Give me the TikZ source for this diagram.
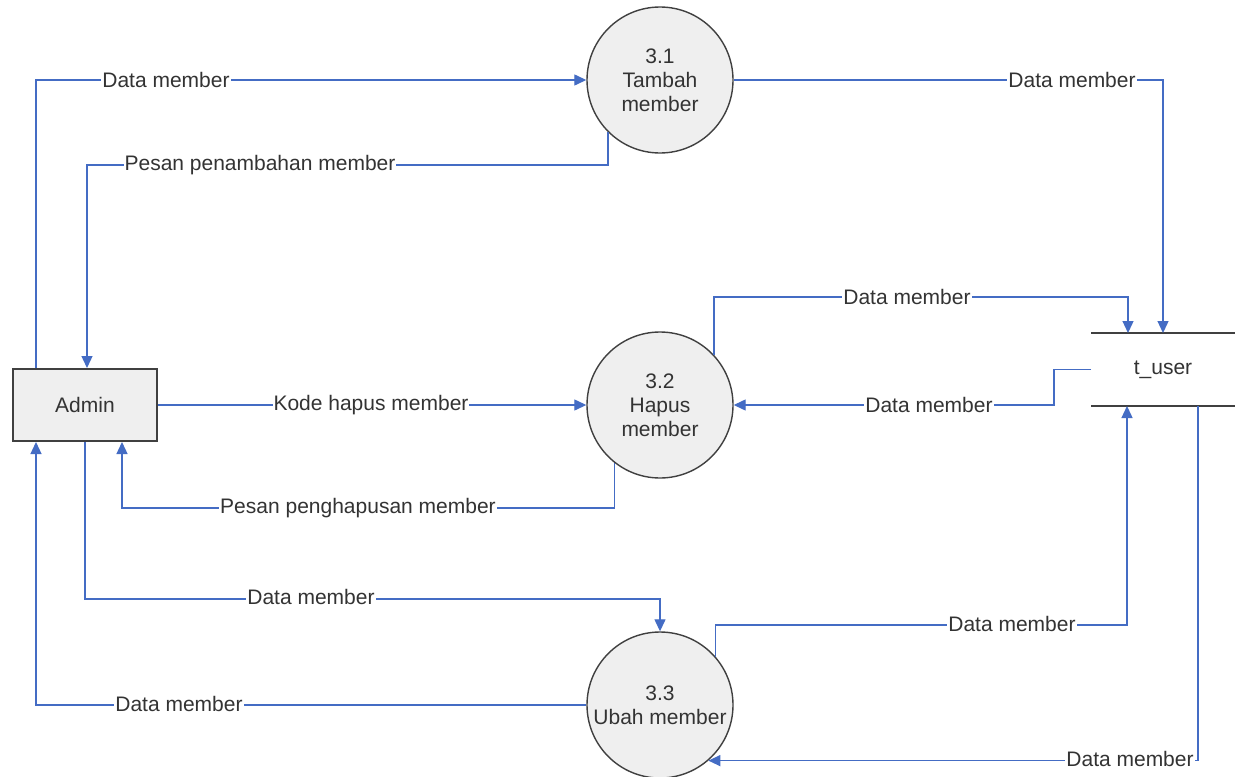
\documentclass[tikz,border=0pt]{standalone}
\usepackage{fontspec}
\setmainfont{Liberation Sans}
\usetikzlibrary{arrows.meta}
\definecolor{flowc}{RGB}{68,108,196}
\definecolor{edgec}{RGB}{64,64,64}
\definecolor{fillc}{RGB}{239,239,239}
\begin{document}
\begin{tikzpicture}[x=1pt,y=-1pt,
  flow/.style={draw=flowc,line width=1.3pt,-{Triangle[length=12pt,width=11pt]}},
  lbl/.style={fill=white,inner sep=1pt,text=black!80,font=\fontsize{21}{24}\selectfont},
  proc/.style={circle,draw=edgec,line width=1.4pt,fill=fillc,minimum size=146pt,inner sep=0pt,
    align=center,text=black!80,font=\fontsize{21}{24}\selectfont},
  entity/.style={rectangle,draw=edgec,line width=2pt,fill=fillc,minimum width=144pt,minimum height=72pt,
    inner sep=0pt,text=black!80,font=\fontsize{21}{24}\selectfont},
  store/.style={rectangle,minimum width=144pt,minimum height=73pt,inner sep=0pt,outer sep=0pt,
    text=black!80,font=\fontsize{21}{24}\selectfont},
  storeline/.style={draw=edgec,line width=2pt}]
\useasboundingbox[fill=white] (0,0) rectangle (1238,776);

\node[entity] (admin) at (85,405) {Admin};
\node[proc] (c31) at (660,80) {3.1\\Tambah\\member};
\node[proc] (c32) at (660,405) {3.2\\Hapus\\member};
\node[proc] (c33) at (660,705) {3.3\\Ubah member};
\node[store] (tuser) at (1163,369.5) {t\_user};
\draw[storeline] (tuser.north west) -- (tuser.north east);
\draw[storeline] (tuser.south west) -- (tuser.south east);

% 1
\draw[flow] ([xshift=24pt]admin.north west) |- (c31.west)
  node[lbl] at (166,80) {Data member};
% 2
\draw[flow] (c31.-135) -- (c31.-135 |- 0,165) -| ([xshift=75pt]admin.north west)
  node[lbl] at (260,165) {Pesan penambahan member};
% 3
\draw[flow] (c31.east) -| (tuser.north)
  node[lbl] at (1072,80) {Data member};
% 4
\draw[flow] (c32.43) -- (c32.43 |- 0,297) -| ([xshift=37pt]tuser.north west)
  node[lbl] at (907,297) {Data member};
% 5
\draw[flow] (tuser.west) -- ++(-37,0) |- (c32.east)
  node[lbl] at (929,405) {Data member};
% 6
\draw[flow] (admin.east) -- (c32.west)
  node[lbl] at (371,405) {Kode hapus member};
% 7
\draw[flow] (c32.-128) -- (c32.-128 |- 0,508) -| ([xshift=110pt]admin.south west)
  node[lbl] at (358,508) {Pesan penghapusan member};
% 8
\draw[flow] ([xshift=73pt]admin.south west) -- ++(0,157) -| (c33.north)
  node[lbl] at (311,597) {Data member};
% 9
\draw[flow] (c33.41) -- (c33.41 |- 0,625) -| ([xshift=36pt]tuser.south west)
  node[lbl] at (1012,624) {Data member};
% 10
\draw[flow] (c33.west) -| ([xshift=24pt]admin.south west)
  node[lbl] at (179,704) {Data member};
% 11
\draw[flow] ([xshift=107pt]tuser.south west) |- (c33.-49)
  node[lbl] at (1130,759) {Data member};
\end{tikzpicture}
\end{document}
